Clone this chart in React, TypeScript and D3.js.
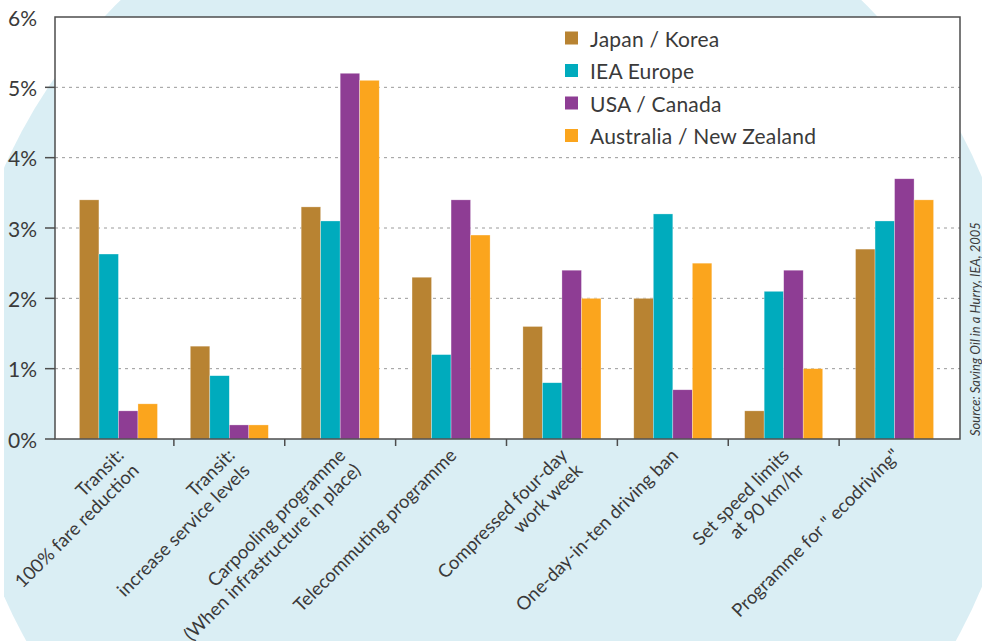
import React from "react";
import * as d3 from "d3";

const categories: string[][] = [
  ["Transit:", "100% fare reduction"],
  ["Transit:", "increase service levels"],
  ["Carpooling programme", "(When infrastructure in place)"],
  ["Telecommuting programme"],
  ["Compressed four-day", "work week"],
  ["One-day-in-ten driving ban"],
  ["Set speed limits", "at 90 km/hr"],
  ["Programme for \" ecodriving\""],
];

const seriesNames = ["Japan / Korea", "IEA Europe", "USA / Canada", "Australia / New Zealand"];
const seriesColors = ["#B88332", "#00ABBD", "#8E3D94", "#FBA51D"];

const japanKorea = [3.4, 1.32, 3.3, 2.3, 1.6, 2.0, 0.4, 2.7];
const ieaEurope = [2.63, 0.9, 3.1, 1.2, 0.8, 3.2, 2.1, 3.1];
const usaCanada = [0.4, 0.2, 5.2, 3.4, 2.4, 0.7, 2.4, 3.7];
const ausNz = [0.5, 0.2, 5.1, 2.9, 2.0, 2.5, 1.0, 3.4];
const seriesValues = [japanKorea, ieaEurope, usaCanada, ausNz];

const yTicks = [0, 1, 2, 3, 4, 5, 6];
const sourceText = "Source: Saving Oil in a Hurry, IEA, 2005";

const W = 982;
const H = 641;
const FONT = "Lato, 'Open Sans', sans-serif";

export default function App() {
  const frameLeft = 55;
  const frameRight = 960;
  const y = d3.scaleLinear().domain([0, 6]).range([439, 17]);
  const catIdx = categories.map((_, i) => String(i));
  const x0 = d3.scaleBand().domain(catIdx).range([63, 950]).padding(0);
  const bw = x0.bandwidth();
  const x1 = d3
    .scaleBand()
    .domain(seriesNames)
    .range([bw * 0.148, bw * 0.852])
    .padding(0);

  const axisColor = "#4d4d4d";
  const textColor = "#3a3a3a";

  return (
    <svg
      width={W}
      height={H}
      style={{ position: "absolute", left: 0, top: 0, background: "#fff" }}
      fontFamily={FONT}
    >
      <defs>
        <clipPath id="bgclip">
          <rect x={4} y={0} width={W - 4} height={H} />
        </clipPath>
      </defs>
      <circle cx={491} cy={382} r={532} fill="#DAEEF4" clipPath="url(#bgclip)" />

      {/* plot area */}
      <rect
        x={frameLeft}
        y={y(6)}
        width={frameRight - frameLeft}
        height={y(0) - y(6)}
        fill="#fff"
      />

      {/* gridlines */}
      {yTicks
        .filter((t) => t > 0 && t < 6)
        .map((t) => (
          <line
            key={"g" + t}
            x1={frameLeft}
            x2={frameRight}
            y1={y(t)}
            y2={y(t)}
            stroke="#9a9a9a"
            strokeWidth={1}
            strokeDasharray="3,4"
          />
        ))}

      {/* bars */}
      {categories.map((_, ci) => (
        <g key={"c" + ci} transform={`translate(${x0(String(ci))},0)`}>
          {seriesNames.map((s, si) => {
            const v = seriesValues[si][ci];
            return (
              <rect
                key={s}
                x={x1(s)}
                y={y(v)}
                width={x1.bandwidth()}
                height={y(0) - y(v)}
                fill={seriesColors[si]}
                stroke="#fff"
                strokeOpacity={0.5}
                strokeWidth={0.6}
              />
            );
          })}
        </g>
      ))}

      {/* frame */}
      <rect
        x={frameLeft}
        y={y(6)}
        width={frameRight - frameLeft}
        height={y(0) - y(6)}
        fill="none"
        stroke={axisColor}
        strokeWidth={1.5}
      />

      {/* y ticks */}
      {yTicks.map((t) => (
        <g key={"y" + t}>
          {t < 6 && (
            <line x1={frameLeft - 10} x2={frameLeft} y1={y(t)} y2={y(t)} stroke={axisColor} strokeWidth={1.5} />
          )}
          <text
            x={37}
            y={y(t)}
            textAnchor="end"
            dominantBaseline="central"
            fontSize={21}
            fill={textColor}
          >
            {t}%
          </text>
        </g>
      ))}

      {/* x ticks between groups */}
      {catIdx.slice(1).map((c) => (
        <line
          key={"xt" + c}
          x1={x0(c)}
          x2={x0(c)}
          y1={y(0)}
          y2={y(0) + 7}
          stroke={axisColor}
          strokeWidth={1.5}
        />
      ))}

      {/* x labels */}
      {categories.map((lines, ci) => {
        const cx = (x0(String(ci)) as number) + bw / 2 + 2;
        return (
          <text
            key={"xl" + ci}
            transform={`translate(${cx},${y(0) + 13}) rotate(-45)`}
            textAnchor="end"
            fontSize={18.5}
            fill={textColor}
          >
            {lines.map((l, li) => (
              <tspan key={li} x={0} dy={li === 0 ? "0.35em" : "1.15em"}>
                {l}
              </tspan>
            ))}
          </text>
        );
      })}

      {/* legend */}
      {seriesNames.map((s, si) => (
        <g key={"lg" + s} transform={`translate(565,${38 + si * 32.5})`}>
          <rect x={0} y={-6.5} width={13} height={13} fill={seriesColors[si]} />
          <text
            x={25}
            y={0}
            dominantBaseline="central"
            fontSize={21}
            letterSpacing={0.2}
            fill={textColor}
          >
            {s}
          </text>
        </g>
      ))}

      {/* source */}
      <text
        transform={`translate(975,${y(0) - 3}) rotate(-90)`}
        textAnchor="start"
        dominantBaseline="central"
        fontSize={13}
        fontStyle="italic"
        fill={textColor}
      >
        {sourceText}
      </text>
    </svg>
  );
}
